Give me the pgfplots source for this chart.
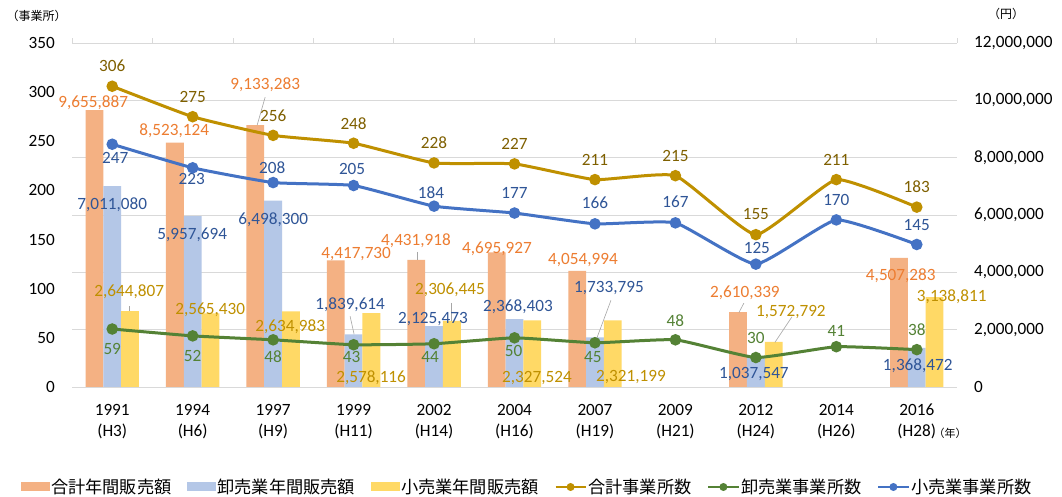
\documentclass[border=0pt]{standalone}
\usepackage{pgfplots}
\pgfplotsset{compat=1.18}
\usepackage{pgfplotstable}
\usepackage{fontspec}
\setmainfont{Carlito}
\newfontfamily\jp{Noto Sans CJK JP}
\definecolor{cOr}{RGB}{244,177,131}
\definecolor{cBl}{RGB}{180,199,231}
\definecolor{cYe}{RGB}{255,217,102}
\definecolor{lGo}{RGB}{191,144,0}
\definecolor{lGr}{RGB}{84,130,53}
\definecolor{lBl}{RGB}{68,114,196}
\definecolor{tGo}{RGB}{127,96,0}
\definecolor{tOr}{RGB}{237,125,49}
\definecolor{tBl}{RGB}{47,85,151}
\definecolor{tYe}{RGB}{191,144,0}
\definecolor{gridc}{RGB}{217,217,217}
\definecolor{leadc}{RGB}{166,166,166}
\newcommand\lblfont{\fontsize{17.2}{20}\selectfont}
\newcommand\dl[6]{\node[text=#5,inner sep=0pt,font=\lblfont] at ([shift={(#3pt,#4pt)}]axis cs:#1,#2) {#6};}
\newcommand\leader[6]{\draw[leadc,line width=0.6pt] ([shift={(#3pt,#4pt)}]axis cs:#1,#2) -- ([shift={(#5pt,#6pt)}]axis cs:#1,#2);}

\pgfplotstableread{
x tot who ret
0 9655887 7011080 2644807
1 8523124 5957694 2565430
2 9133283 6498300 2634983
3 4417730 1839614 2578116
4 4431918 2125473 2306445
5 4695927 2368403 2327524
6 4054994 1733795 2321199
8 2610339 1037547 1572792
10 4507283 1368472 3138811
}\bars

\pgfplotstableread{
x tot who ret
0 306 59 247
1 275 52 223
2 256 48 208
3 248 43 205
4 228 44 184
5 227 50 177
6 211 45 166
7 215 48 167
8 155 30 125
9 211 41 170
10 183 38 145
}\lines

\begin{document}
\begin{tikzpicture}
\useasboundingbox[fill=white] (0,0) rectangle (1062pt,497pt);
% ---------- bars, right axis ----------
\begin{axis}[
  at={(72pt,110pt)}, anchor=south west,
  width=885pt, height=344pt, scale only axis,
  xmin=-0.5, xmax=10.5, ymin=0, ymax=12000000,
  clip=false,
  axis y line*=right, hide x axis,
  axis line style={draw=none},
  tick style={draw=none},
  ytick={0,2000000,4000000,6000000,8000000,10000000,12000000},
  scaled y ticks=false,
  yticklabel style={anchor=west, inner sep=0pt, xshift=17pt, font=\fontsize{17.2}{20}\selectfont,
    /pgf/number format/.cd, fixed, 1000 sep={,}, assume math mode=true},
  ymajorgrids, grid style={gridc, line width=0.8pt},
  ybar=0pt, bar width=17.8pt,
]
\addplot[fill=cOr, draw=none] table[x=x,y=tot]{\bars};
\addplot[fill=cBl, draw=none] table[x=x,y=who]{\bars};
\addplot[fill=cYe, draw=none] table[x=x,y=ret]{\bars};
\pgfplotsinvokeforeach{-0.5,0.5,...,10.5}{\draw[gridc,line width=0.8pt] (axis cs:#1,12000000) -- ++(0pt,5pt);}
% leader lines
\leader{2}{9133283}{-8}{28}{-16}{0}
\leader{3}{1839614}{-3.5}{18}{0.5}{0}
\leader{0}{2644807}{17}{5}{17}{0}
\leader{6}{1733795}{16}{37}{2}{-0.5}
\leader{8}{1572792}{36}{25}{19}{-0.5}
\leader{8}{2610339}{-12}{9}{-17}{-0.5}
\leader{4}{2306445}{17}{18}{17}{0}
\leader{4}{4431918}{-17}{8}{-17}{0}
% orange labels
\dl{0}{9655887}{-19}{7}{tOr}{9,655,887}
\dl{1}{8523124}{-18.5}{12}{tOr}{8,523,124}
\dl{2}{9133283}{-8}{40}{tOr}{9,133,283}
\dl{3}{4417730}{2.5}{6}{tOr}{4,417,730}
\dl{4}{4431918}{-18}{19}{tOr}{4,431,918}
\dl{5}{4695927}{-17.5}{4}{tOr}{4,695,927}
\dl{6}{4054994}{-12}{11}{tOr}{4,054,994}
\dl{8}{2610339}{-11}{19}{tOr}{2,610,339}
\dl{10}{4507283}{-16}{-18}{tOr}{4,507,283}
% blue labels
\dl{0}{7011080}{0}{-19}{tBl}{7,011,080}
\dl{1}{5957694}{-0.5}{-19}{tBl}{5,957,694}
\dl{2}{6498300}{0}{-19}{tBl}{6,498,300}
\dl{3}{1839614}{-3.5}{30}{tBl}{1,839,614}
\dl{4}{2125473}{-1}{7}{tBl}{2,125,473}
\dl{5}{2368403}{3.5}{12}{tBl}{2,368,403}
\dl{6}{1733795}{14}{49}{tBl}{1,733,795}
\dl{8}{1037547}{-2}{-17}{tBl}{1,037,547}
\dl{10}{1368472}{1}{-18}{tBl}{1,368,472}
% yellow labels
\dl{0}{2644807}{17}{19}{tYe}{2,644,807}
\dl{1}{2565430}{17.5}{4}{tYe}{2,565,430}
\dl{2}{2634983}{17}{-15}{tYe}{2,634,983}
\dl{3}{2578116}{17.5}{-65}{tYe}{2,578,116}
\dl{4}{2306445}{16}{31}{tYe}{2,306,445}
\dl{5}{2327524}{22.5}{-58}{tYe}{2,327,524}
\dl{6}{2321199}{36}{-57}{tYe}{2,321,199}
\dl{8}{1572792}{35}{30}{tYe}{1,572,792}
\dl{10}{3138811}{35}{0}{tYe}{3,138,811}
\end{axis}
% ---------- lines, left axis ----------
\begin{axis}[
  at={(72pt,110pt)}, anchor=south west,
  width=885pt, height=344pt, scale only axis,
  xmin=-0.5, xmax=10.5, ymin=0, ymax=350,
  clip=false,
  axis y line*=left, axis x line*=bottom,
  axis line style={draw=none},
  tick style={draw=none},
  ytick={0,50,...,350},
  yticklabel style={anchor=east, inner sep=0pt, xshift=-17pt, font=\fontsize{17.2}{20}\selectfont,
    /pgf/number format/assume math mode=true},
  xtick={0,...,10},
  xticklabels={{1991\\(H3)},{1994\\(H6)},{1997\\(H9)},{1999\\(H11)},{2002\\(H14)},{2004\\(H16)},{2007\\(H19)},{2009\\(H21)},{2012\\(H24)},{2014\\(H26)},{2016\\(H28)}},
  xticklabel style={align=center, anchor=north, inner sep=0pt, yshift=-17pt, font=\fontsize{17.2}{21}\selectfont},
  legend columns=6,
  legend style={draw=none, fill=none, at={(0.514,-0.2907)}, anchor=center,
    font=\jp\fontsize{17.2}{20}\selectfont, inner sep=0pt,
    nodes={inner sep=1.5pt},
    /tikz/every even column/.append style={column sep=14pt}},
]
\addlegendimage{fill=cOr, draw=none, legend image code/.code={\fill (0pt,-4.5pt) rectangle (29pt,4.5pt);}}
\addlegendentry{合計年間販売額}
\addlegendimage{fill=cBl, draw=none, legend image code/.code={\fill (0pt,-4.5pt) rectangle (29pt,4.5pt);}}
\addlegendentry{卸売業年間販売額}
\addlegendimage{fill=cYe, draw=none, legend image code/.code={\fill (0pt,-4.5pt) rectangle (29pt,4.5pt);}}
\addlegendentry{小売業年間販売額}
\pgfplotsset{linelegend/.style={legend image code/.code={\draw[line width=2.6pt, mark size=2.6pt, mark repeat=2, mark phase=2] plot coordinates {(0pt,0pt) (15pt,0pt) (30pt,0pt)};}}}
\addplot[lGo, line width=3pt, smooth, tension=0.25, mark=*, mark size=4.2pt, linelegend] table[x=x,y=tot]{\lines};
\addlegendentry{合計事業所数}
\addplot[lGr, line width=3pt, smooth, tension=0.25, mark=*, mark size=4.2pt, linelegend] table[x=x,y=who]{\lines};
\addlegendentry{卸売業事業所数}
\addplot[lBl, line width=3pt, smooth, tension=0.25, mark=*, mark size=4.2pt, linelegend] table[x=x,y=ret]{\lines};
\addlegendentry{小売業事業所数}
% total labels
\dl{0}{306}{0}{20}{tGo}{306}
\dl{1}{275}{0}{20}{tGo}{275}
\dl{2}{256}{0}{20}{tGo}{256}
\dl{3}{248}{0}{20}{tGo}{248}
\dl{4}{228}{0}{20}{tGo}{228}
\dl{5}{227}{0}{20}{tGo}{227}
\dl{6}{211}{0}{20}{tGo}{211}
\dl{7}{215}{0}{20}{tGo}{215}
\dl{8}{155}{0}{21}{tGo}{155}
\dl{9}{211}{0}{20}{tGo}{211}
\dl{10}{183}{0}{20}{tGo}{183}
% retail labels
\dl{0}{247}{3}{-14}{tBl}{247}
\dl{1}{223}{-1}{-11}{tBl}{223}
\dl{2}{208}{-1}{15}{tBl}{208}
\dl{3}{205}{-1.5}{16.5}{tBl}{205}
\dl{4}{184}{-3}{13}{tBl}{184}
\dl{5}{177}{0}{20}{tBl}{177}
\dl{6}{166}{0}{21}{tBl}{166}
\dl{7}{167}{0}{21}{tBl}{167}
\dl{8}{125}{1}{16}{tBl}{125}
\dl{9}{170}{0}{20}{tBl}{170}
\dl{10}{145}{0}{19.5}{tBl}{145}
% wholesale labels
\dl{0}{59}{0}{-20}{lGr}{59}
\dl{1}{52}{0}{-20}{lGr}{52}
\dl{2}{48}{0}{-17}{lGr}{48}
\dl{3}{43}{-2}{-12}{lGr}{43}
\dl{4}{44}{-4}{-13}{lGr}{44}
\dl{5}{50}{-1}{-13}{lGr}{50}
\dl{6}{45}{-2}{-14}{lGr}{45}
\dl{7}{48}{0}{19}{lGr}{48}
\dl{8}{30}{0}{19.5}{lGr}{30}
\dl{9}{41}{0}{16}{lGr}{41}
\dl{10}{38}{0}{20}{lGr}{38}
\end{axis}
\node[font=\jp\fontsize{12}{13}\selectfont, inner sep=0pt] at (36.5pt,481pt) {（事業所）};
\node[font=\jp\fontsize{12}{13}\selectfont, inner sep=0pt] at (1006pt,483pt) {（円）};
\node[font=\jp\fontsize{11}{12}\selectfont, inner sep=0pt] at (950pt,64pt) {（年）};
\end{tikzpicture}
\end{document}
